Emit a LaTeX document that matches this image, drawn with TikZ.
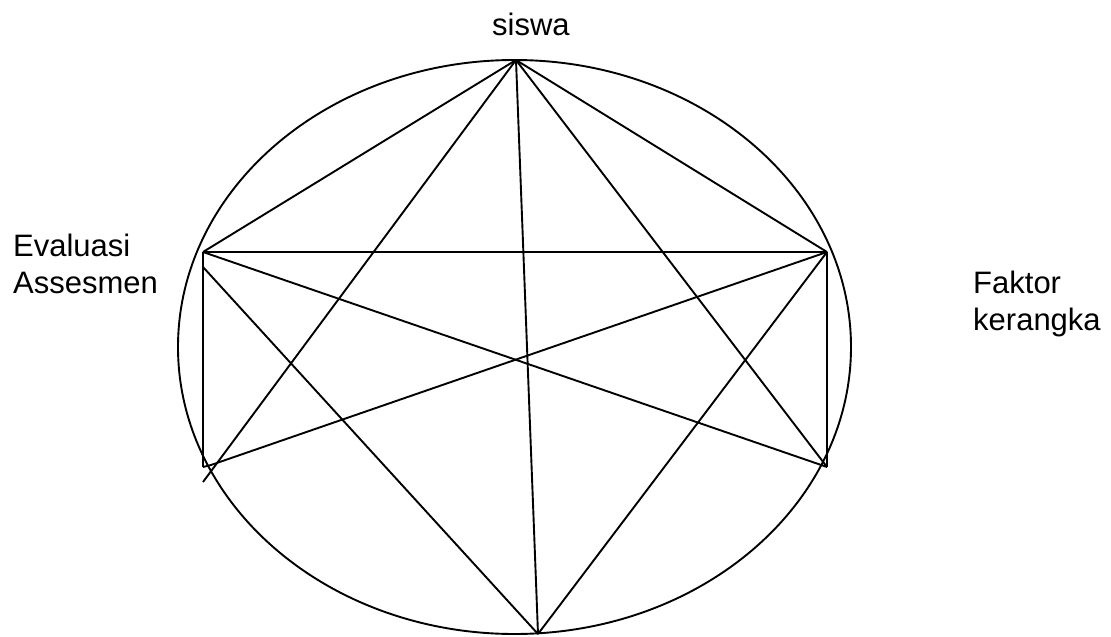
\documentclass[tikz,border=0pt]{standalone}
\usepackage{fontspec}
\setmainfont{Liberation Sans}
\begin{document}
\begin{tikzpicture}[x=1pt,y=-1pt,
  edge/.style={line width=1.9pt, line join=round},
  lbl/.style={anchor=base west, inner sep=0pt, font=\fontsize{31}{37}\selectfont}]
\useasboundingbox (0,0) rectangle (1111,637);
% vertices
\coordinate (T) at (516,60);
\coordinate (B) at (538,634);
\coordinate (LT) at (203,252);
\coordinate (LTb) at (203,267);
\coordinate (LB) at (203,467);
\coordinate (LBr) at (211,465);
\coordinate (LX) at (203,482);
\coordinate (RT) at (827,252);
\coordinate (RB) at (827,467);
% ellipse
\draw[edge] (514.5,347) ellipse [x radius=336.5pt, y radius=287pt];
% edges
\draw[edge] (T) -- (LT);
\draw[edge] (T) -- (LX);
\draw[edge] (T) -- (B);
\draw[edge] (T) -- (RB);
\draw[edge] (T) -- (RT);
\draw[edge] (LT) -- (RT);
\draw[edge] (LT) -- (LB);
\draw[edge] (LT) -- (RB);
\draw[edge] (LTb) -- (B);
\draw[edge] (LB) -- (LBr) -- (RT);
\draw[edge] (RT) -- (RB);
\draw[edge] (RT) -- (B);
% labels
\node[lbl] (siswa) at (492,35) {siswa};
\node[lbl] (eval) at (13,256) {Evaluasi};
\node[lbl] (asses) at (13,293) {Assesmen};
\node[lbl] (faktor) at (973,293) {Faktor};
\node[lbl] (kerangka) at (973,330) {kerangka};
\end{tikzpicture}
\end{document}
